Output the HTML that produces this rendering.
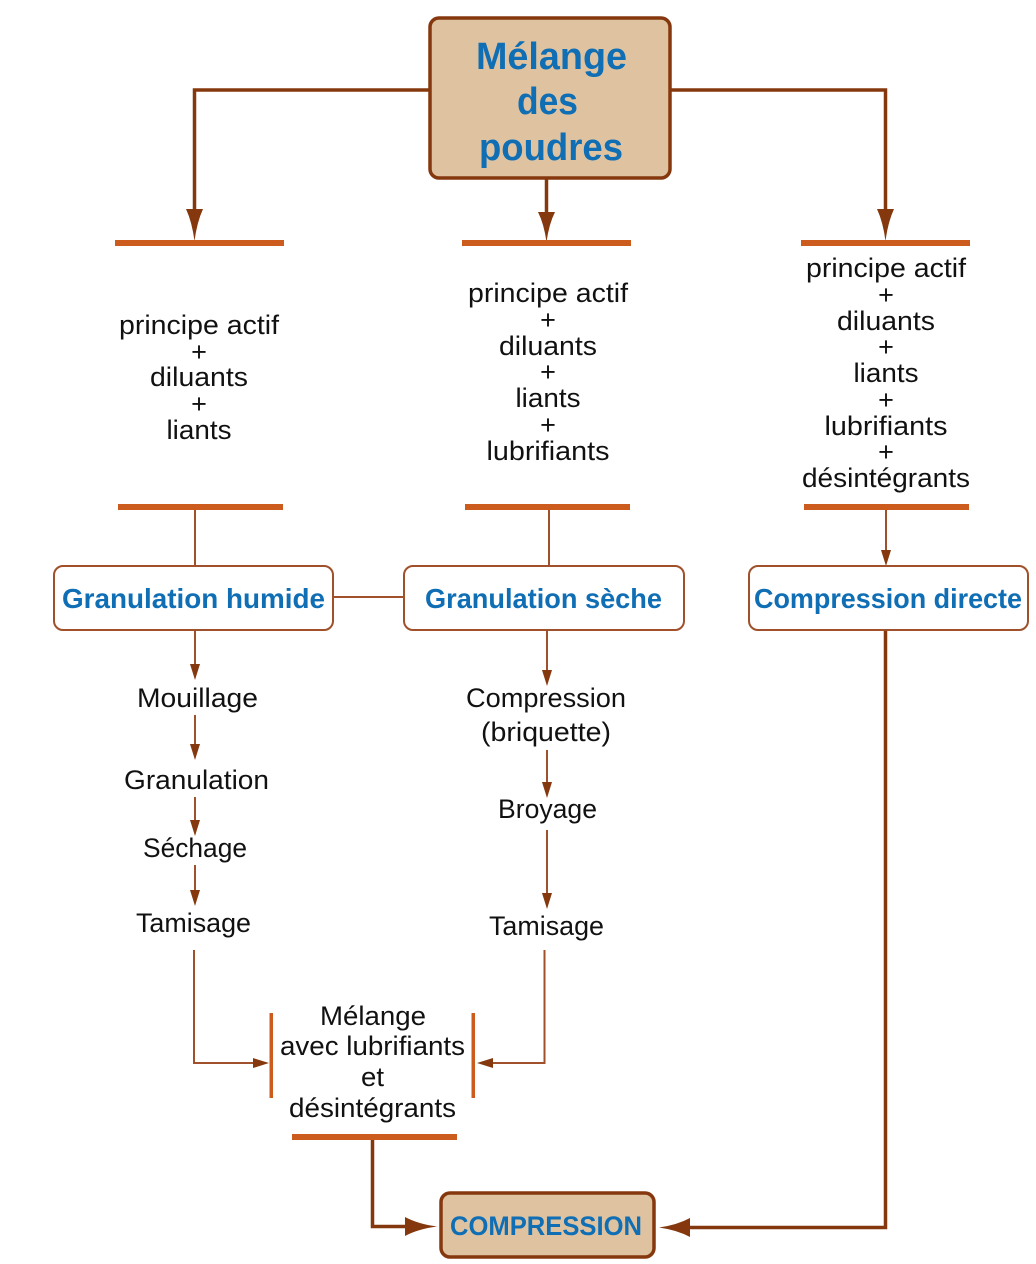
<!DOCTYPE html>
<html lang="fr">
<head>
<meta charset="utf-8">
<title>Mélange des poudres</title>
<style>
html,body{margin:0;padding:0;background:#fff;width:1036px;height:1264px;overflow:hidden}
svg{display:block}
text{font-family:"Liberation Sans",sans-serif}
.b{font-size:27px;fill:#111;text-anchor:middle}
.h{font-weight:bold;fill:#0f6eb4;text-anchor:middle}
.thick{fill:none;stroke:#85380d;stroke-width:3.500}
.thin{fill:none;stroke:#a0502a;stroke-width:2}
.ah{fill:#85380d}
.bar{fill:#cc5c1d}
</style>
</head>
<body>
<svg xmlns="http://www.w3.org/2000/svg" width="1036" height="1264" viewBox="0 0 1036 1264">
<!-- thick connectors -->
<path class="thick" d="M430 90H194.500V212"/>
<path class="thick" d="M670 90H885.500V212"/>
<path class="thick" d="M546.500 178V214"/>
<path class="ah" d="M186 209H203Q197 222 194.500 241Q192 222 186 209Z"/>
<path class="ah" d="M877 209H894Q888 222 885.500 241Q883 222 877 209Z"/>
<path class="ah" d="M538 212H555Q549 224 546.500 242Q544 224 538 212Z"/>
<path class="thick" d="M372.500 1140V1226.500H410"/>
<path class="ah" d="M405 1217Q418 1224 437 1226.500Q418 1229 405 1236Z"/>
<path class="thick" d="M885.500 630V1227.500H688"/>
<path class="ah" d="M690 1218Q677 1225 659 1227.500Q677 1230 690 1237Z"/>

<!-- thin connectors -->
<path class="thin" d="M195 510V566"/>
<path class="thin" d="M549 510V566"/>
<path class="thin" d="M886 510V552"/>
<path class="thin" d="M333 597H404"/>
<path class="thin" d="M195 630V668"/>
<path class="thin" d="M195 715V748"/>
<path class="thin" d="M195 797V824"/>
<path class="thin" d="M195 865V894"/>
<path class="thin" d="M194 950V1063H258"/>
<path class="thin" d="M547 630V674"/>
<path class="thin" d="M547 750V786"/>
<path class="thin" d="M547 830V897"/>
<path class="thin" d="M544.500 950V1063H490"/>
<polygon class="ah" points="190,664 200,664 195,680"/>
<polygon class="ah" points="190,744 200,744 195,760"/>
<polygon class="ah" points="190,820 200,820 195,836"/>
<polygon class="ah" points="190,890 200,890 195,906"/>
<polygon class="ah" points="542,670 552,670 547,686"/>
<polygon class="ah" points="542,782 552,782 547,798"/>
<polygon class="ah" points="542,893 552,893 547,909"/>
<polygon class="ah" points="881,550 891,550 886,566"/>
<polygon class="ah" points="253,1058 253,1068 269,1063"/>
<polygon class="ah" points="493,1058 493,1068 477,1063"/>

<!-- orange bars -->
<rect class="bar" x="115" y="240" width="169" height="6"/>
<rect class="bar" x="462" y="240" width="169" height="6"/>
<rect class="bar" x="801" y="240" width="169" height="6"/>
<rect class="bar" x="118" y="504" width="165" height="6"/>
<rect class="bar" x="465" y="504" width="165" height="6"/>
<rect class="bar" x="804" y="504" width="165" height="6"/>
<rect class="bar" x="292" y="1134" width="165" height="6"/>
<rect class="bar" x="269.500" y="1013" width="3.500" height="85"/>
<rect class="bar" x="471.500" y="1013" width="3.500" height="85"/>

<!-- main boxes -->
<rect x="430" y="18" width="240" height="160" rx="9" fill="#dfc3a0" stroke="#85380d" stroke-width="3.500"/>
<rect x="441" y="1193" width="213" height="64" rx="9" fill="#dfc3a0" stroke="#85380d" stroke-width="3.500"/>
<rect x="54" y="566" width="279" height="64" rx="9" fill="#fff" stroke="#a0502a" stroke-width="2"/>
<rect x="404" y="566" width="280" height="64" rx="9" fill="#fff" stroke="#a0502a" stroke-width="2"/>
<rect x="749" y="566" width="279" height="64" rx="9" fill="#fff" stroke="#a0502a" stroke-width="2"/>

<!-- headings -->
<text class="h" font-size="38" x="551.500" y="69" textLength="151" lengthAdjust="spacingAndGlyphs">Mélange</text>
<text class="h" font-size="38" x="547.500" y="114" textLength="61" lengthAdjust="spacingAndGlyphs">des</text>
<text class="h" font-size="38" x="551" y="160" textLength="144" lengthAdjust="spacingAndGlyphs">poudres</text>
<text class="h" font-size="28" x="193.500" y="608" textLength="263" lengthAdjust="spacingAndGlyphs">Granulation humide</text>
<text class="h" font-size="28" x="543.500" y="608" textLength="237" lengthAdjust="spacingAndGlyphs">Granulation sèche</text>
<text class="h" font-size="28" x="888" y="608" textLength="268" lengthAdjust="spacingAndGlyphs">Compression directe</text>
<text class="h" font-size="27" x="546" y="1235" textLength="192" lengthAdjust="spacingAndGlyphs">COMPRESSION</text>

<!-- column 1 -->
<text class="b" x="199" y="334" textLength="160" lengthAdjust="spacingAndGlyphs">principe actif</text>
<text class="b" x="199" y="361">+</text>
<text class="b" x="199" y="386" textLength="98" lengthAdjust="spacingAndGlyphs">diluants</text>
<text class="b" x="199" y="413">+</text>
<text class="b" x="199" y="439" textLength="65" lengthAdjust="spacingAndGlyphs">liants</text>

<!-- column 2 -->
<text class="b" x="548" y="302" textLength="160" lengthAdjust="spacingAndGlyphs">principe actif</text>
<text class="b" x="548" y="329">+</text>
<text class="b" x="548" y="355" textLength="98" lengthAdjust="spacingAndGlyphs">diluants</text>
<text class="b" x="548" y="381">+</text>
<text class="b" x="548" y="407" textLength="65" lengthAdjust="spacingAndGlyphs">liants</text>
<text class="b" x="548" y="434">+</text>
<text class="b" x="548" y="460" textLength="123" lengthAdjust="spacingAndGlyphs">lubrifiants</text>

<!-- column 3 -->
<text class="b" x="886" y="277" textLength="160" lengthAdjust="spacingAndGlyphs">principe actif</text>
<text class="b" x="886" y="304">+</text>
<text class="b" x="886" y="330" textLength="98" lengthAdjust="spacingAndGlyphs">diluants</text>
<text class="b" x="886" y="356">+</text>
<text class="b" x="886" y="382" textLength="65" lengthAdjust="spacingAndGlyphs">liants</text>
<text class="b" x="886" y="409">+</text>
<text class="b" x="886" y="435" textLength="123" lengthAdjust="spacingAndGlyphs">lubrifiants</text>
<text class="b" x="886" y="461">+</text>
<text class="b" x="886" y="487" textLength="168" lengthAdjust="spacingAndGlyphs">désintégrants</text>

<!-- steps left -->
<text class="b" x="197.500" y="707" textLength="121" lengthAdjust="spacingAndGlyphs">Mouillage</text>
<text class="b" x="196.500" y="789" textLength="145" lengthAdjust="spacingAndGlyphs">Granulation</text>
<text class="b" x="195" y="857" textLength="104" lengthAdjust="spacingAndGlyphs">Séchage</text>
<text class="b" x="193.500" y="932" textLength="115" lengthAdjust="spacingAndGlyphs">Tamisage</text>

<!-- steps right -->
<text class="b" x="546" y="707" textLength="160" lengthAdjust="spacingAndGlyphs">Compression</text>
<text class="b" x="546" y="741" textLength="130" lengthAdjust="spacingAndGlyphs">(briquette)</text>
<text class="b" x="547.500" y="818" textLength="99" lengthAdjust="spacingAndGlyphs">Broyage</text>
<text class="b" x="546.500" y="935" textLength="115" lengthAdjust="spacingAndGlyphs">Tamisage</text>

<!-- bottom mix -->
<text class="b" x="373" y="1025" textLength="106" lengthAdjust="spacingAndGlyphs">Mélange</text>
<text class="b" x="372.500" y="1055" textLength="185" lengthAdjust="spacingAndGlyphs">avec lubrifiants</text>
<text class="b" x="372.500" y="1086" textLength="23" lengthAdjust="spacingAndGlyphs">et</text>
<text class="b" x="372.500" y="1117" textLength="167" lengthAdjust="spacingAndGlyphs">désintégrants</text>
</svg>
</body>
</html>
